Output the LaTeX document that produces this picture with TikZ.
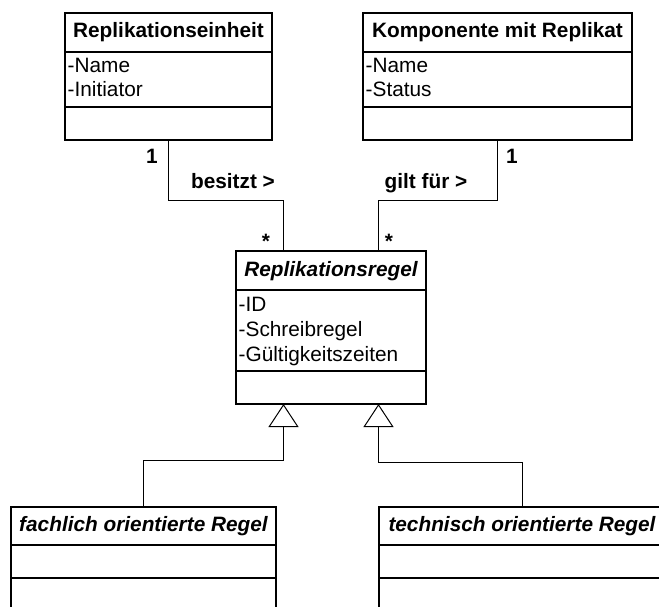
\documentclass[tikz,border=0pt]{standalone}
\usepackage{fontspec}
\setmainfont{Liberation Sans}
\usetikzlibrary{arrows.meta}
\begin{document}
\begin{tikzpicture}[x=1pt,y=-1pt,
  classbox/.style={draw, line width=1.8pt, inner sep=0pt, outer sep=0pt, anchor=north west},
  txt/.style={inner sep=0pt, font=\fontsize{20.8}{24}\selectfont},
  head/.style={txt, font=\fontsize{20.8}{24}\selectfont\bfseries, anchor=base},
  ahead/.style={txt, font=\fontsize{20.8}{24}\selectfont\bfseries\itshape, anchor=base},
  attr/.style={txt, anchor=base west},
  lbl/.style={txt, font=\fontsize{20.8}{24}\selectfont\bfseries, anchor=base},
  link/.style={line width=1pt},
  gen/.style={link, -{Triangle[open, length=23pt, width=30pt, line width=1pt]}},
  sep/.style={line width=1.8pt}]

\clip (0,0) rectangle (659,606);
\fill[white] (0,0) rectangle (659,606);

% Replikationseinheit
\node[classbox, minimum width=207pt, minimum height=127pt] (re) at (65,13) {};
\draw[sep] ([yshift=-39pt]re.north west) -- ([yshift=-39pt]re.north east);
\draw[sep] ([yshift=-94pt]re.north west) -- ([yshift=-94pt]re.north east);
\node[head] (reT) at ([yshift=-24.5pt]re.north) {Replikationseinheit};
\node[attr] (reA1) at ([xshift=2.5pt,yshift=-59.7pt]re.north west) {-Name};
\node[attr] (reA2) at ([xshift=2.5pt,yshift=-83.7pt]re.north west) {-Initiator};

% Komponente mit Replikat
\node[classbox, minimum width=269pt, minimum height=127pt] (kr) at (363,13) {};
\draw[sep] ([yshift=-39pt]kr.north west) -- ([yshift=-39pt]kr.north east);
\draw[sep] ([yshift=-94pt]kr.north west) -- ([yshift=-94pt]kr.north east);
\node[head] (krT) at ([yshift=-24.5pt]kr.north) {Komponente mit Replikat};
\node[attr] (krA1) at ([xshift=2.5pt,yshift=-59.7pt]kr.north west) {-Name};
\node[attr] (krA2) at ([xshift=2.5pt,yshift=-83.7pt]kr.north west) {-Status};

% Replikationsregel (abstract)
\node[classbox, minimum width=190pt, minimum height=153pt] (rr) at (236,251) {};
\draw[sep] ([yshift=-39pt]rr.north west) -- ([yshift=-39pt]rr.north east);
\draw[sep] ([yshift=-120pt]rr.north west) -- ([yshift=-120pt]rr.north east);
\node[ahead] (rrT) at ([yshift=-25pt]rr.north) {Replikationsregel};
\node[attr] (rrA1) at ([xshift=2.5pt,yshift=-60pt]rr.north west) {-ID};
\node[attr] (rrA2) at ([xshift=2.5pt,yshift=-85pt]rr.north west) {-Schreibregel};
\node[attr] (rrA3) at ([xshift=2.5pt,yshift=-110.5pt]rr.north west) {-Gültigkeitszeiten};

% fachlich orientierte Regel
\node[classbox, minimum width=265pt, minimum height=120pt] (fr) at (11,507) {};
\draw[sep] ([yshift=-38pt]fr.north west) -- ([yshift=-38pt]fr.north east);
\draw[sep] ([yshift=-71pt]fr.north west) -- ([yshift=-71pt]fr.north east);
\node[ahead] (frT) at ([yshift=-24.7pt]fr.north) {fachlich orientierte Regel};

% technisch orientierte Regel
\node[classbox, minimum width=286pt, minimum height=120pt] (tr) at (379,507) {};
\draw[sep] ([yshift=-38pt]tr.north west) -- ([yshift=-38pt]tr.north east);
\draw[sep] ([yshift=-71pt]tr.north west) -- ([yshift=-71pt]tr.north east);
\node[ahead] (trT) at ([yshift=-24.7pt]tr.north) {technisch orientierte Regel};

% associations
\draw[link] (re.south) -- ++(0,60) -| ([xshift=-47.5pt]rr.north);
\draw[link] (kr.south) -- ++(0,60) -| ([xshift=47.5pt]rr.north);
\node[lbl] (m1) at (152,163) {1};
\node[lbl] (a1) at (233,188) {besitzt >};
\node[lbl] (s1) at (266,248.4) {*};
\node[lbl] (m2) at (512,163) {1};
\node[lbl] (a2) at (426,188) {gilt für >};
\node[lbl] (s2) at (389,248.4) {*};

% generalizations
\draw[gen] (fr.north) -- ++(0,-47) -| ([xshift=-47.5pt]rr.south);
\draw[gen] (tr.north) -- ++(0,-45) -| ([xshift=47.5pt]rr.south);
\end{tikzpicture}
\end{document}
